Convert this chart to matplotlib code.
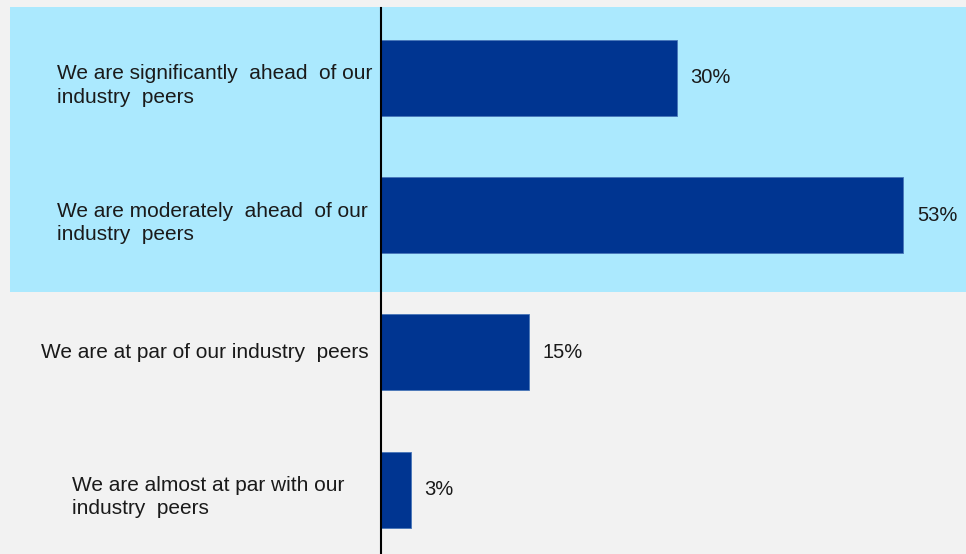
import matplotlib.pyplot as plt
import matplotlib.transforms as mtransforms
from matplotlib.patches import Rectangle

plt.rcParams['font.family'] = ['Liberation Sans', 'DejaVu Sans']

categories = [
    "We are significantly  ahead  of our\nindustry  peers",
    "We are moderately  ahead  of our\nindustry  peers",
    "We are at par of our industry  peers",
    "We are almost at par with our\nindustry  peers",
]
values = [30, 53, 15, 3]
label_x_px = [57, 57, 41, 72]  # left edge of each category label

W, H = 966, 554
BG = "#f2f2f2"
HIGHLIGHT = "#abe9fe"
BAR = "#003591"
TEXT = "#1a1a1a"

fig = plt.figure(figsize=(W / 100, H / 100), dpi=100, facecolor=BG)

# highlighted band behind the top two answers
fig.patches.append(Rectangle((10 / W, 1 - 292 / H), 1 - 10 / W, 285 / H,
                             transform=fig.transFigure, facecolor=HIGHLIGHT,
                             edgecolor="none", zorder=0))

ax = fig.add_axes([381 / W, 0, 1 - 381 / W, 1 - 8 / H])
ax.set_zorder(2)
ax.set_facecolor("none")
rows = list(range(len(values)))
ax.barh(rows, values, height=0.554, color=BAR, edgecolor="#4876b8",
        linewidth=0.6, zorder=2)
ax.set_xlim(0, 585 / 9.85)
ax.set_ylim(3.47, -0.51)

for side in ["top", "right", "bottom"]:
    ax.spines[side].set_visible(False)
ax.spines["left"].set_linewidth(1.5)
ax.spines["left"].set_color("black")
ax.set_xticks([])
ax.set_yticks([])

# value labels
for r, v in zip(rows, values):
    ax.annotate(f"{v}%", (v, r), xytext=(10, 0), textcoords="offset points",
                va="center", ha="left", fontsize=14.5, color=TEXT)

# category labels, anchored in figure x and data y
trans = mtransforms.blended_transform_factory(fig.transFigure, ax.transData)
for r, lab, lx in zip(rows, categories, label_x_px):
    dy = -5.5 if "\n" in lab else 0
    t = mtransforms.offset_copy(trans, fig=fig, x=0, y=dy, units="points")
    ax.text(lx / W, r, lab, transform=t, va="center", ha="left",
            fontsize=15, color=TEXT, linespacing=1.3, clip_on=False)

fig.savefig("out.png", dpi=100, facecolor=BG)
